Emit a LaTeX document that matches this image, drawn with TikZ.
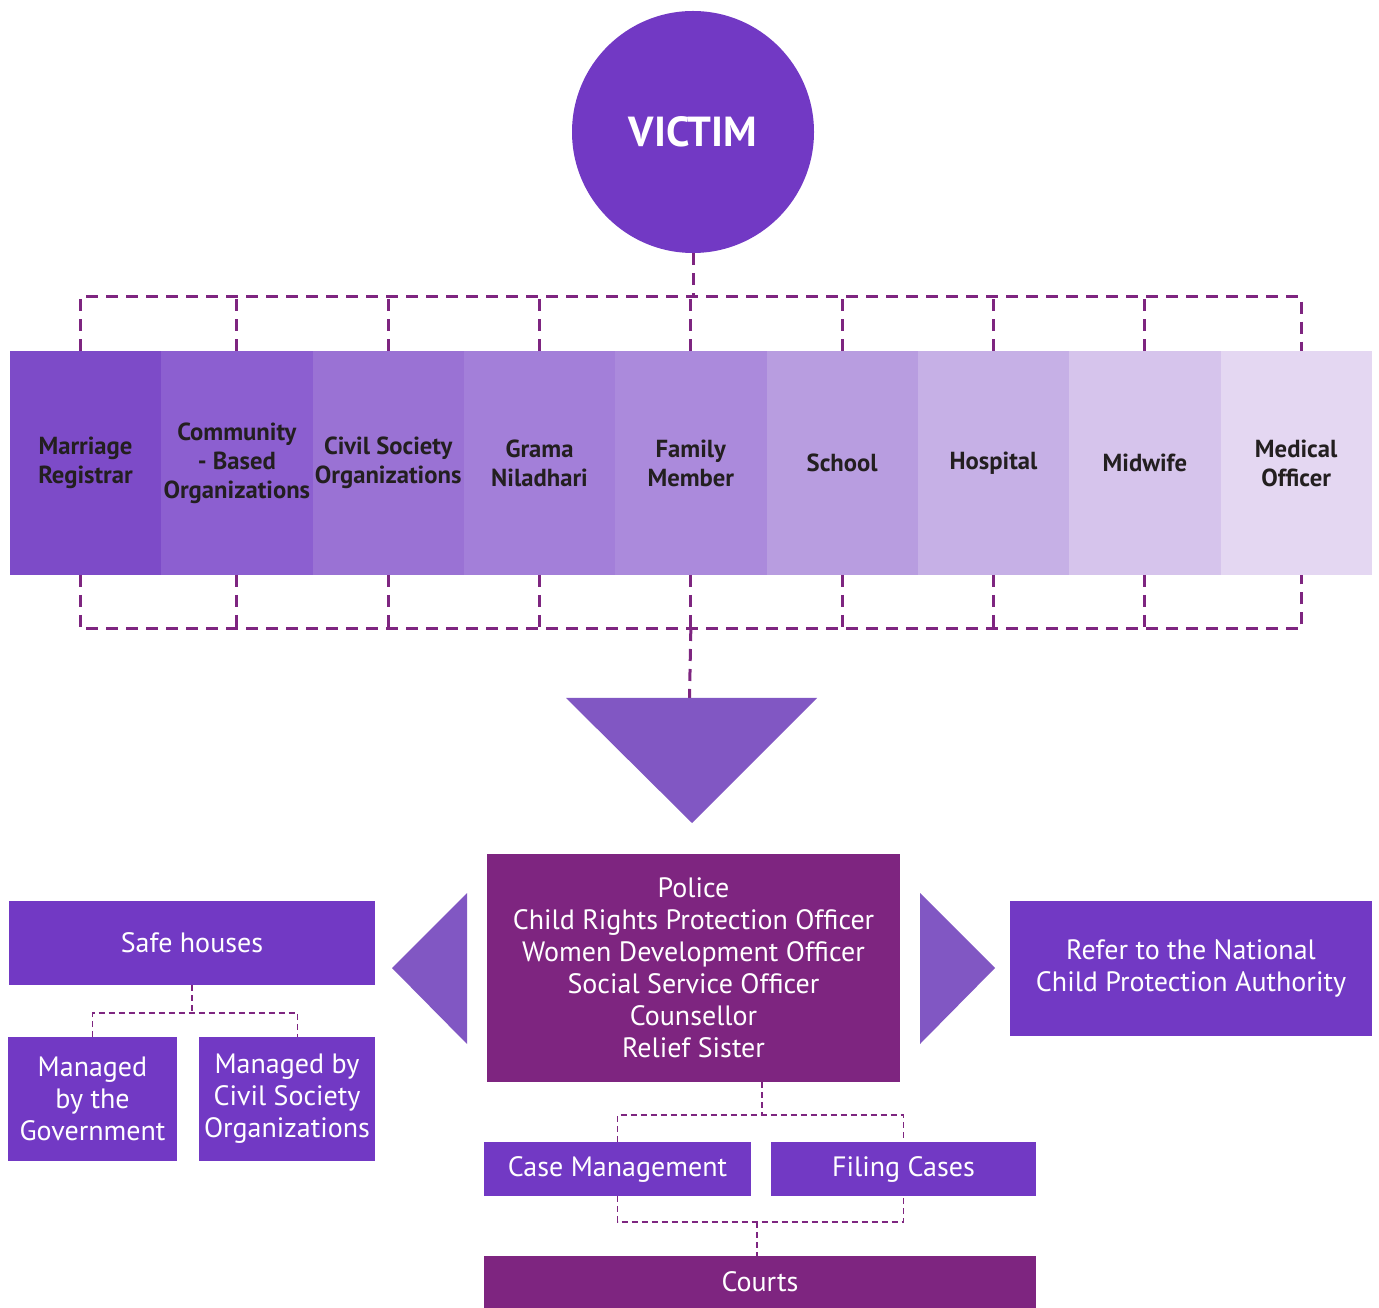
\documentclass[tikz,border=0pt]{standalone}
\usepackage{fontspec}
\setmainfont{PT Sans}
\usetikzlibrary{positioning}

\definecolor{violetbox}{RGB}{114,57,196}
\definecolor{plumbox}{RGB}{126,37,128}
\definecolor{arrowfill}{RGB}{129,87,195}
\definecolor{ink}{RGB}{35,31,32}
\definecolor{rowA}{RGB}{125,75,200}
\definecolor{rowB}{RGB}{140,95,208}
\definecolor{rowC}{RGB}{154,114,212}
\definecolor{rowD}{RGB}{163,127,217}
\definecolor{rowE}{RGB}{171,138,220}
\definecolor{rowF}{RGB}{184,157,224}
\definecolor{rowG}{RGB}{198,176,230}
\definecolor{rowH}{RGB}{214,196,236}
\definecolor{rowI}{RGB}{228,215,242}

\tikzset{
  rowbox/.style={rectangle, minimum width=113.5pt, minimum height=168pt,
    inner sep=0pt, outer sep=0pt, align=center, text=ink,
    font=\bfseries\fontsize{18.5}{21.75}\selectfont},
  fillbox/.style={rectangle, inner sep=0pt, outer sep=0pt, align=center,
    text=white, font=\fontsize{21}{24}\selectfont},
  dashline/.style={draw=plumbox, line width=2.25pt, dash pattern=on 9pt off 6pt},
  thindash/.style={draw=plumbox, line width=1.1pt, dash pattern=on 4.5pt off 3pt}
}

\begin{document}
\begin{tikzpicture}[x=0.75pt,y=-0.75pt]
	\useasboundingbox (0,0) rectangle (1379,1308);

	% victim and the row of first contacts
	\node [circle, fill=violetbox, minimum size=181.5pt, text=white,
		font=\bfseries\fontsize{31.5}{38}\selectfont] (victim) at (693,132) {VICTIM};

	\node [rowbox, fill=rowA] (registrar) at (85.5,463) {Marriage\\Registrar};
	\node [rowbox, fill=rowB, right=0pt of registrar] (cbo) {Community\\- Based\\Organizations};
	\node [rowbox, fill=rowC, right=0pt of cbo] (cso) {Civil Society\\Organizations};
	\node [rowbox, fill=rowD, right=0pt of cso] (grama) {Grama\\Niladhari};
	\node [rowbox, fill=rowE, right=0pt of grama] (family) {Family\\Member};
	\node [rowbox, fill=rowF, right=0pt of family] (school) {School};
	\node [rowbox, fill=rowG, right=0pt of school] (hospital) {Hospital};
	\node [rowbox, fill=rowH, right=0pt of hospital] (midwife) {Midwife};
	\node [rowbox, fill=rowI, right=0pt of midwife] (medical) {Medical\\Officer};

	\coordinate (topbus) at (0,297);
	\coordinate (lowbus) at (0,629);
	\coordinate (leftdrop) at ([xshift=-4pt]registrar.center);
	\coordinate (rightdrop) at ([xshift=4pt]medical.center);
	\draw [dashline] (victim.south) -- (victim.south |- topbus);
	\draw [dashline] (registrar.north -| leftdrop) -- (leftdrop |- topbus) -- (rightdrop |- topbus) -- (medical.north -| rightdrop);
	\draw [dashline] (registrar.south -| leftdrop) -- (leftdrop |- lowbus) -- (rightdrop |- lowbus) -- (medical.south -| rightdrop);
	\foreach \b in {cbo,cso,grama,family,school,hospital,midwife}{
		\draw [dashline] (\b.north) -- (\b.north |- topbus);
		\draw [dashline] (\b.south) -- (\b.south |- lowbus);
	}

	% big arrow down
	\coordinate (downtip) at (689.5,698);
	\draw [dashline] (family.south |- lowbus) -- (downtip);
	\fill [arrowfill] (566,698) -- (817,698) -- (692,823) -- cycle;

	% officers and the two side arrows
	\node [fillbox, fill=plumbox, minimum width=309.75pt, minimum height=171pt] (police) at (693.5,968)
		{Police\\Child Rights Protection Officer\\Women Development Officer\\Social Service Officer\\Counsellor\\Relief Sister};
	\fill [arrowfill] (467,893) -- (467,1044) -- (392,968) -- cycle;
	\fill [arrowfill] (920,893) -- (920,1044) -- (995,968) -- cycle;

	\node [fillbox, fill=violetbox, minimum width=271.5pt, minimum height=101.25pt] (refer) at (1191,968.5)
		{Refer to the National\\Child Protection Authority};

	% safe houses
	\node [fillbox, fill=violetbox, minimum width=274.5pt, minimum height=63pt] (safe) at (192,943) {Safe houses};
	\node [fillbox, fill=violetbox, minimum width=126.75pt, minimum height=93pt] (gov) at (92.5,1099)
		{Managed\\by the\\Government};
	\node [fillbox, fill=violetbox, minimum width=132pt, minimum height=93pt] (csohouse) at (287,1099)
		{Managed by\\Civil Society\\Organizations};
	\coordinate (safebus) at (192,1013);
	\draw [thindash] (safe.south) -- (safebus);
	\draw [thindash] (gov.north) |- (safebus) -| ([xshift=8pt]csohouse.north);

	% cases and courts
	\node [fillbox, fill=violetbox, minimum width=200.25pt, minimum height=40.5pt] (casemgmt) at (617.5,1169) {Case Management};
	\node [fillbox, fill=violetbox, minimum width=198.75pt, minimum height=40.5pt] (filing) at (903.5,1169) {Filing Cases};
	\node [fillbox, fill=plumbox, minimum width=414pt, minimum height=39pt] (courts) at (760,1282) {Courts};

	\coordinate (policebus) at (762,1115);
	\coordinate (courtbus) at (757,1222);
	\draw [thindash] (police.south -| policebus) -- (policebus);
	\draw [thindash] (casemgmt.north) |- (policebus) -| (filing.north);
	\draw [thindash] (casemgmt.south) |- (courtbus) -| (filing.south);
	\draw [thindash] (courtbus) -- (courts.north -| courtbus);
\end{tikzpicture}
\end{document}
